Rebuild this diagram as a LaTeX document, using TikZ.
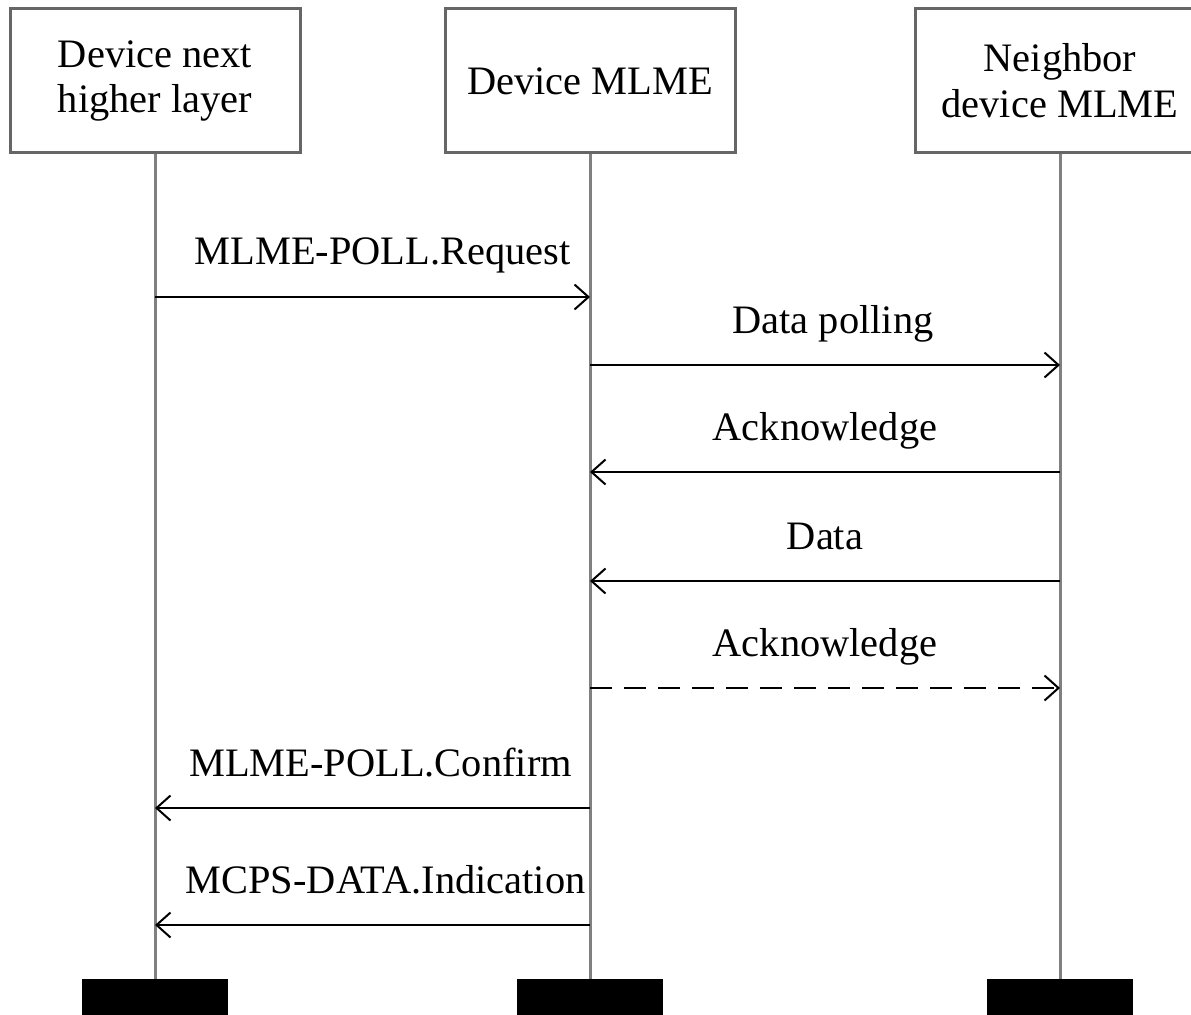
\documentclass[tikz,border=0pt]{standalone}
\usepackage{fontspec}
\setmainfont{Liberation Serif}
\usetikzlibrary{arrows.meta}

\begin{document}
\begin{tikzpicture}[
        box/.style={draw=black!60, line width=0.06cm, fill=white, minimum width=5.8cm, minimum height=2.88cm, align=center, font=\fontsize{23}{26}\selectfont},
        life/.style={draw=black!50, line width=0.06cm},
        bar/.style={fill=black, anchor=north, minimum width=2.92cm, minimum height=1.2cm, inner sep=0pt},
        msg/.style={line width=0.04cm, -{Straight Barb[length=0.28cm,width=0.5cm,line width=0.04cm]}},
        ackdash/.style={dash pattern=on 0.44cm off 0.24cm},
        lbl/.style={anchor=base, inner sep=0pt, font=\fontsize{23}{26}\selectfont}]
        \useasboundingbox (0,0) rectangle (23.82,-20.3);

        % participants
        \node[box] (hl) at (3.1,-1.62) {Device next\\higher layer};
        \node[box] (dev) at (11.8,-1.62) {Device MLME};
        \node[box] (nb) at (21.2,-1.62) {Neighbor\\device MLME};

        \node[bar] (hlend) at (3.1,-19.58) {};
        \node[bar] (devend) at (11.8,-19.58) {};
        \node[bar] (nbend) at (21.2,-19.58) {};

        \draw[life] (hl) -- (hlend);
        \draw[life] (dev) -- (devend);
        \draw[life] (nb) -- (nbend);

        % messages
        \foreach \y/\a/\b/\t/\s/\dx in {5.94/hl/dev/MLME-POLL.Request/solid/0.2,
                7.30/dev/nb/Data polling/solid/0.16,
                9.44/nb/dev/Acknowledge/solid/0,
                11.62/nb/dev/Data/solid/0,
                13.76/dev/nb/Acknowledge/ackdash/0,
                16.16/dev/hl/MLME-POLL.Confirm/solid/0.16,
                18.50/dev/hl/MCPS-DATA.Indication/solid/0.26}
        {
                \draw[msg,\s] (\a |- 0,-\y) -- node[lbl,xshift=\dx cm,yshift=0.64cm]{\t} (\b |- 0,-\y);
        }
\end{tikzpicture}
\end{document}
